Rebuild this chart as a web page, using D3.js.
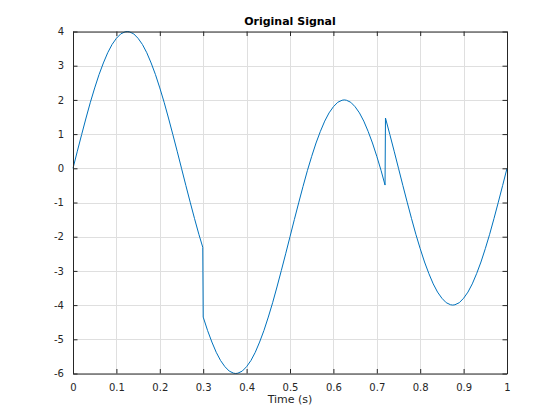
<!DOCTYPE html>
<html><head><meta charset="utf-8">
<script src="https://cdn.jsdelivr.net/npm/d3@7"></script>
<style>body{margin:0;background:#fff}svg{display:block}text{font-family:"DejaVu Sans",sans-serif}</style>
</head><body>
<script>
const timeS = [0,0.01,0.02,0.03,0.04,0.05,0.06,0.07,0.08,0.09,0.10,0.11,0.12,0.125,0.13,0.14,0.15,0.16,0.17,0.18,0.19,0.20,0.21,0.22,0.23,0.24,0.25,0.26,0.27,0.28,0.29,0.299,0.30,0.31,0.32,0.33,0.34,0.35,0.36,0.37,0.375,0.38,0.39,0.40,0.41,0.42,0.43,0.44,0.45,0.46,0.47,0.48,0.49,0.50,0.51,0.52,0.53,0.54,0.55,0.56,0.57,0.58,0.59,0.60,0.61,0.62,0.625,0.63,0.64,0.65,0.66,0.67,0.68,0.69,0.70,0.71,0.719,0.72,0.73,0.74,0.75,0.76,0.77,0.78,0.79,0.80,0.81,0.82,0.83,0.84,0.85,0.86,0.87,0.875,0.88,0.89,0.90,0.91,0.92,0.93,0.94,0.95,0.96,0.97,0.98,0.99,1.00];
const signal = [0,0.50,0.99,1.47,1.93,2.35,2.74,3.08,3.38,3.62,3.80,3.93,3.99,4.00,3.99,3.93,3.80,3.62,3.38,3.08,2.74,2.35,1.93,1.47,0.99,0.50,0,-0.50,-0.99,-1.47,-1.93,-2.31,-4.35,-4.74,-5.08,-5.38,-5.62,-5.80,-5.93,-5.99,-6.00,-5.99,-5.93,-5.80,-5.62,-5.38,-5.08,-4.74,-4.35,-3.93,-3.47,-2.99,-2.50,-2.00,-1.50,-1.01,-0.53,-0.07,0.35,0.74,1.08,1.38,1.62,1.80,1.93,1.99,2.00,1.99,1.93,1.80,1.62,1.38,1.08,0.74,0.35,-0.07,-0.49,1.47,0.99,0.50,0,-0.50,-0.99,-1.47,-1.93,-2.35,-2.74,-3.08,-3.38,-3.62,-3.80,-3.93,-3.99,-4.00,-3.99,-3.93,-3.80,-3.62,-3.38,-3.08,-2.74,-2.35,-1.93,-1.47,-0.99,-0.50,0];
const xTicks = [0,0.1,0.2,0.3,0.4,0.5,0.6,0.7,0.8,0.9,1];
const yTicks = [-6,-5,-4,-3,-2,-1,0,1,2,3,4];
const titleText = "Original Signal";
const xLabelText = "Time (s)";

const W = 560, H = 420;
const L = 73, R = 507, T = 31.5, B = 373.5;
const svg = d3.select("body").append("svg").attr("width", W).attr("height", H);
const x = d3.scaleLinear().domain([0, 1]).range([L, R]);
const y = d3.scaleLinear().domain([-6, 4]).range([B, T]);
const axisCol = "#262626";

// grid
svg.append("g").selectAll("line.gx").data(xTicks).join("line")
  .attr("x1", d => Math.round(x(d)) + 0.5).attr("x2", d => Math.round(x(d)) + 0.5)
  .attr("y1", T).attr("y2", B).attr("stroke", "#dfdfdf").attr("stroke-width", 1);
svg.append("g").selectAll("line.gy").data(yTicks).join("line")
  .attr("y1", d => Math.round(y(d)) + 0.5).attr("y2", d => Math.round(y(d)) + 0.5)
  .attr("x1", L).attr("x2", R).attr("stroke", "#dfdfdf").attr("stroke-width", 1);

// signal
const line = d3.line().x((d, i) => x(timeS[i])).y(d => y(d));
svg.append("path").datum(signal).attr("d", line)
  .attr("fill", "none").attr("stroke", "#0072BD").attr("stroke-width", 1).attr("stroke-linejoin", "round");

// axes (bottom/left with labels, top/right ticks only)
const tl = 4.5;
const fmt = d => String(d);
const gx = svg.append("g").attr("transform", `translate(0,${B})`)
  .call(d3.axisBottom(x).tickValues(xTicks).tickFormat(fmt).tickSizeInner(-tl).tickSizeOuter(0).tickPadding(10));
const gxt = svg.append("g").attr("transform", `translate(0,${T})`)
  .call(d3.axisTop(x).tickValues(xTicks).tickFormat("").tickSizeInner(-tl).tickSizeOuter(0));
const gy = svg.append("g").attr("transform", `translate(${L},0)`)
  .call(d3.axisLeft(y).tickValues(yTicks).tickFormat(fmt).tickSizeInner(-tl).tickSizeOuter(0).tickPadding(9));
const gyr = svg.append("g").attr("transform", `translate(${R},0)`)
  .call(d3.axisRight(y).tickValues(yTicks).tickFormat("").tickSizeInner(-tl).tickSizeOuter(0));
[gx, gxt, gy, gyr].forEach(g => {
  g.selectAll("path.domain").attr("stroke", axisCol);
  g.selectAll("line").attr("stroke", axisCol);
  g.selectAll("text").attr("fill", axisCol).style("font-size", "10px").style("font-family", "DejaVu Sans");
});

// title and label
svg.append("text").attr("x", (L + R) / 2).attr("y", 25).attr("text-anchor", "middle")
  .style("font-size", "11px").style("font-weight", "bold").attr("fill", "#000").text(titleText);
svg.append("text").attr("x", (L + R) / 2).attr("y", 403).attr("text-anchor", "middle")
  .style("font-size", "11px").attr("fill", axisCol).text(xLabelText);
</script>
</body></html>
